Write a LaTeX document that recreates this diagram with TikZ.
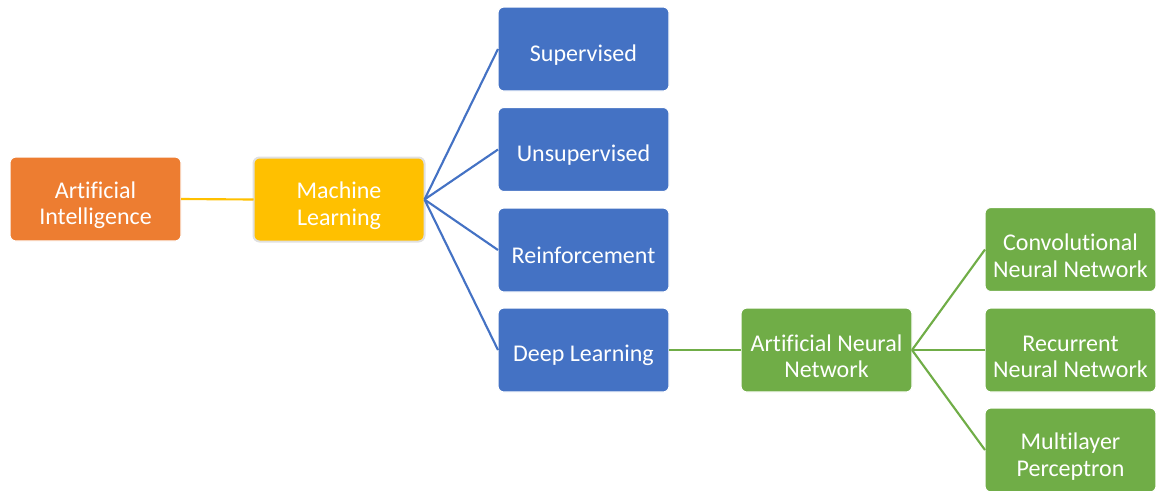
\documentclass[tikz,border=0pt]{standalone}
\usepackage{fontspec}
\setmainfont{Carlito}[Ligatures=CommonOff]
\usepackage{tikz}
\usetikzlibrary{positioning}
\definecolor{aiorange}{HTML}{ED7D31}
\definecolor{mlgold}{HTML}{FFC000}
\definecolor{typeblue}{HTML}{4472C4}
\definecolor{netgreen}{HTML}{70AD47}

\begin{document}
\begin{tikzpicture}[x=0.75pt, y=-0.75pt,
    box/.style={rounded corners=4.5pt, draw=white, line width=0.8pt,
        minimum width=128.25pt, minimum height=63pt, inner sep=0pt, outer sep=0pt,
        align=center, text=white, text height=21pt, font=\fontsize{18}{20}\selectfont},
    twoline/.style={text height=42pt},
    link/.style={line width=1.6pt}]
    \useasboundingbox (0,0) rectangle (1156,490);

    % Root
    \node[box, twoline, fill=aiorange] (ai) at (95.5,199) {Artificial\\Intelligence};
    \node[box, twoline, fill=mlgold, draw=black!12, line width=1.5pt] (ml) at (339,199.5) {Machine\\Learning};

    % Learning types
    \node[box, fill=typeblue] (sup) at (583.5,49) {Supervised};
    \node[box, fill=typeblue] (unsup) at (583.5,149.5) {Unsupervised};
    \node[box, fill=typeblue] (reinf) at (583.5,250) {Reinforcement};
    \node[box, fill=typeblue] (dl) at (583.5,350) {Deep Learning};

    % Networks
    \node[box, twoline, fill=netgreen] (ann) at (826.5,350) {Artificial Neural\\Network};
    \node[box, twoline, fill=netgreen] (cnn) at (1070.5,249.5) {Convolutional\\Neural Network};
    \node[box, twoline, fill=netgreen] (rnn) at (1070.5,350) {Recurrent\\Neural Network};
    \node[box, twoline, fill=netgreen] (mlp) at (1070.5,450) {Multilayer\\Perceptron};

    % Links
    \draw[link, mlgold] (ai.east) -- (ml.west);
    \draw[link, typeblue] (ml.east) -- (sup.west);
    \draw[link, typeblue] (ml.east) -- (unsup.west);
    \draw[link, typeblue] (ml.east) -- (reinf.west);
    \draw[link, typeblue] (ml.east) -- (dl.west);
    \draw[link, netgreen] (dl.east) -- (ann.west);
    \draw[link, netgreen] (ann.east) -- (cnn.west);
    \draw[link, netgreen] (ann.east) -- (rnn.west);
    \draw[link, netgreen] (ann.east) -- (mlp.west);
\end{tikzpicture}
\end{document}
